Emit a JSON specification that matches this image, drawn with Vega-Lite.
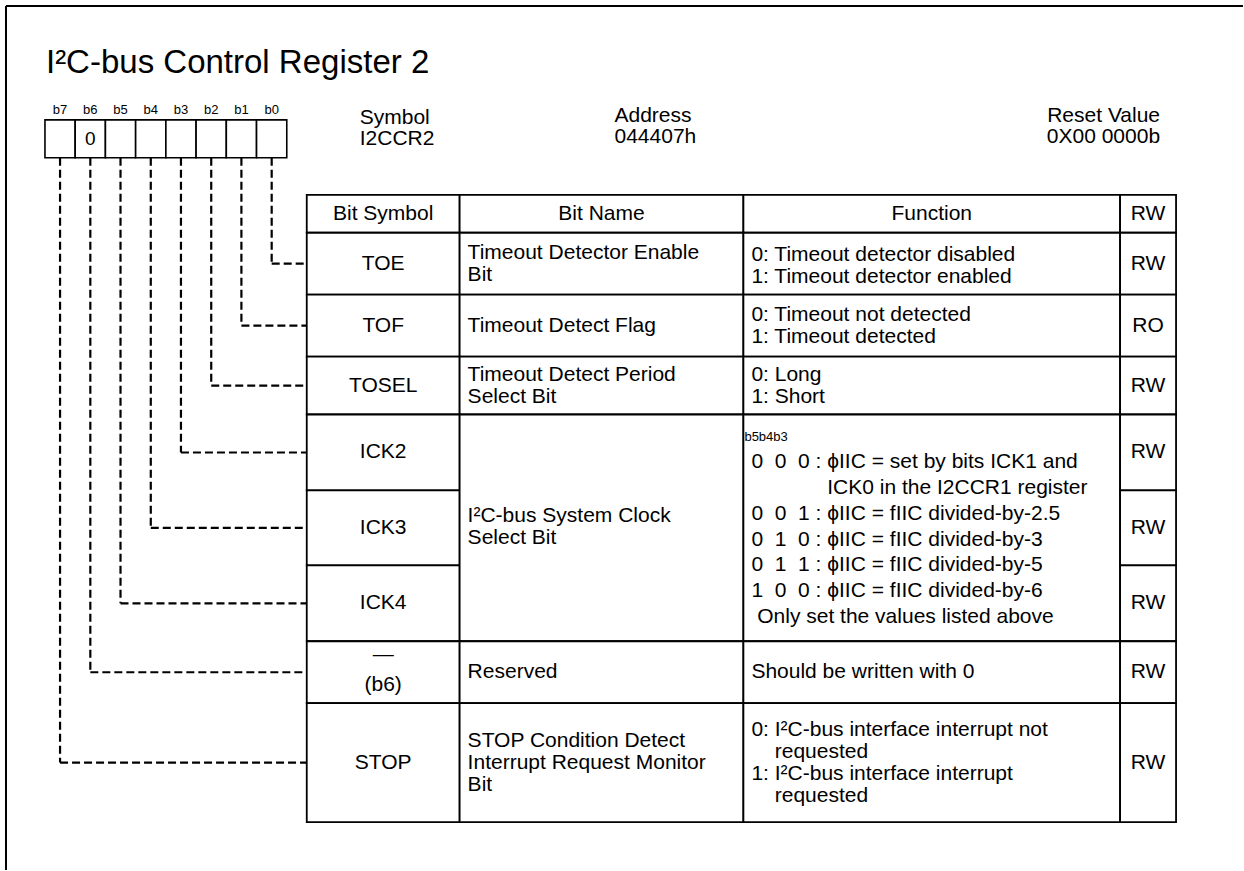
{
  "$schema": "https://vega.github.io/schema/vega-lite/v6.json",
  "width": 1244,
  "height": 871,
  "autosize": {"type": "fit", "contains": "padding"},
  "padding": 0,
  "background": "white",
  "config": {"view": {"stroke": null}},
  "datasets": {
    "frame": [
      {"x": 6, "x2": 1244, "y": 6, "y2": 6},
      {"x": 6, "x2": 6, "y": 6, "y2": 871}
    ],
    "bits": [
      {"bit": "b7", "value": "", "left": 45, "right": 75.25, "mid": 60.1, "top": 120, "bottom": 158, "box_mid": 139, "label_y": 110, "row": 763.5, "table_left": 307},
      {"bit": "b6", "value": "0", "left": 75.25, "right": 105.5, "mid": 90.4, "top": 120, "bottom": 158, "box_mid": 139, "label_y": 110, "row": 673, "table_left": 307},
      {"bit": "b5", "value": "", "left": 105.5, "right": 135.75, "mid": 120.6, "top": 120, "bottom": 158, "box_mid": 139, "label_y": 110, "row": 604, "table_left": 307},
      {"bit": "b4", "value": "", "left": 135.75, "right": 166, "mid": 150.9, "top": 120, "bottom": 158, "box_mid": 139, "label_y": 110, "row": 528.5, "table_left": 307},
      {"bit": "b3", "value": "", "left": 166, "right": 196.25, "mid": 181.1, "top": 120, "bottom": 158, "box_mid": 139, "label_y": 110, "row": 453, "table_left": 307},
      {"bit": "b2", "value": "", "left": 196.25, "right": 226.5, "mid": 211.4, "top": 120, "bottom": 158, "box_mid": 139, "label_y": 110, "row": 386, "table_left": 307},
      {"bit": "b1", "value": "", "left": 226.5, "right": 256.75, "mid": 241.6, "top": 120, "bottom": 158, "box_mid": 139, "label_y": 110, "row": 326, "table_left": 307},
      {"bit": "b0", "value": "", "left": 256.75, "right": 287, "mid": 271.9, "top": 120, "bottom": 158, "box_mid": 139, "label_y": 110, "row": 264, "table_left": 307}
    ],
    "cells": [
      {"left": 307, "right": 460, "top": 195, "bottom": 233},
      {"left": 460, "right": 744, "top": 195, "bottom": 233},
      {"left": 744, "right": 1121, "top": 195, "bottom": 233},
      {"left": 1121, "right": 1177, "top": 195, "bottom": 233},
      {"left": 307, "right": 460, "top": 233, "bottom": 295},
      {"left": 460, "right": 744, "top": 233, "bottom": 295},
      {"left": 744, "right": 1121, "top": 233, "bottom": 295},
      {"left": 1121, "right": 1177, "top": 233, "bottom": 295},
      {"left": 307, "right": 460, "top": 295, "bottom": 357},
      {"left": 460, "right": 744, "top": 295, "bottom": 357},
      {"left": 744, "right": 1121, "top": 295, "bottom": 357},
      {"left": 1121, "right": 1177, "top": 295, "bottom": 357},
      {"left": 307, "right": 460, "top": 357, "bottom": 415},
      {"left": 460, "right": 744, "top": 357, "bottom": 415},
      {"left": 744, "right": 1121, "top": 357, "bottom": 415},
      {"left": 1121, "right": 1177, "top": 357, "bottom": 415},
      {"left": 307, "right": 460, "top": 415, "bottom": 491},
      {"left": 307, "right": 460, "top": 491, "bottom": 566},
      {"left": 307, "right": 460, "top": 566, "bottom": 642},
      {"left": 460, "right": 744, "top": 415, "bottom": 642},
      {"left": 744, "right": 1121, "top": 415, "bottom": 642},
      {"left": 1121, "right": 1177, "top": 415, "bottom": 491},
      {"left": 1121, "right": 1177, "top": 491, "bottom": 566},
      {"left": 1121, "right": 1177, "top": 566, "bottom": 642},
      {"left": 307, "right": 460, "top": 642, "bottom": 704},
      {"left": 460, "right": 744, "top": 642, "bottom": 704},
      {"left": 744, "right": 1121, "top": 642, "bottom": 704},
      {"left": 1121, "right": 1177, "top": 642, "bottom": 704},
      {"left": 307, "right": 460, "top": 704, "bottom": 823},
      {"left": 460, "right": 744, "top": 704, "bottom": 823},
      {"left": 744, "right": 1121, "top": 704, "bottom": 823},
      {"left": 1121, "right": 1177, "top": 704, "bottom": 823}
    ],
    "title": [
      {"text": "I²C-bus Control Register 2", "x": 46, "y": 73}
    ],
    "info_left": [
      {"text": "Symbol\nI2CCR2", "x": 360, "y": 124},
      {"text": "Address\n044407h", "x": 615, "y": 122}
    ],
    "info_right": [
      {"text": "Reset Value\n0X00 0000b", "x": 1161, "y": 122}
    ],
    "centered": [
      {"text": "Bit Symbol", "x": 383.5, "y": 214},
      {"text": "Bit Name", "x": 602, "y": 214},
      {"text": "Function", "x": 932.5, "y": 214},
      {"text": "RW", "x": 1149, "y": 214},
      {"text": "TOE", "x": 383.5, "y": 264},
      {"text": "TOF", "x": 383.5, "y": 326},
      {"text": "TOSEL", "x": 383.5, "y": 386},
      {"text": "ICK2", "x": 383.5, "y": 453},
      {"text": "ICK3", "x": 383.5, "y": 528.5},
      {"text": "ICK4", "x": 383.5, "y": 604},
      {"text": "—\n(b6)", "x": 383.5, "y": 656},
      {"text": "STOP", "x": 383.5, "y": 763.5},
      {"text": "RW", "x": 1149, "y": 264},
      {"text": "RO", "x": 1149, "y": 326},
      {"text": "RW", "x": 1149, "y": 386},
      {"text": "RW", "x": 1149, "y": 453},
      {"text": "RW", "x": 1149, "y": 528.5},
      {"text": "RW", "x": 1149, "y": 604},
      {"text": "RW", "x": 1149, "y": 673},
      {"text": "RW", "x": 1149, "y": 763.5}
    ],
    "left_text": [
      {"text": "Timeout Detector Enable\nBit", "x": 468, "y": 253},
      {"text": "Timeout Detect Flag", "x": 468, "y": 326},
      {"text": "Timeout Detect Period\nSelect Bit", "x": 468, "y": 375},
      {"text": "I²C-bus System Clock\nSelect Bit", "x": 468, "y": 517},
      {"text": "Reserved", "x": 468, "y": 673},
      {"text": "STOP Condition Detect\nInterrupt Request Monitor\nBit", "x": 468, "y": 741.5},
      {"text": "0: Timeout detector disabled\n1: Timeout detector enabled", "x": 752, "y": 255},
      {"text": "0: Timeout not detected\n1: Timeout detected", "x": 752, "y": 315},
      {"text": "0: Long\n1: Short", "x": 752, "y": 375},
      {"text": "Should be written with 0", "x": 752, "y": 673},
      {"text": "0: I²C-bus interface interrupt not\n\u200b\u00a0\u00a0\u00a0\u00a0requested\n1: I²C-bus interface interrupt\n\u200b\u00a0\u00a0\u00a0\u00a0requested", "x": 752, "y": 730.5}
    ],
    "ick_func": [
      {"text": "0\u00a0\u00a00\u00a0\u00a00 : ϕIIC = set by bits ICK1 and\n\u200b\u00a0\u00a0\u00a0\u00a0\u00a0\u00a0\u00a0\u00a0\u00a0\u00a0\u00a0\u00a0\u00a0ICK0 in the I2CCR1 register\n0\u00a0\u00a00\u00a0\u00a01 : ϕIIC = fIIC divided-by-2.5\n0\u00a0\u00a01\u00a0\u00a00 : ϕIIC = fIIC divided-by-3\n0\u00a0\u00a01\u00a0\u00a01 : ϕIIC = fIIC divided-by-5\n1\u00a0\u00a00\u00a0\u00a00 : ϕIIC = fIIC divided-by-6\n\u200b\u00a0Only set the values listed above", "x": 752, "y": 463}
    ],
    "ick_bits": [
      {"text": "b5b4b3", "x": 745, "y": 438}
    ]
  },
  "layer": [
    {
      "data": {"name": "frame"},
      "mark": {"type": "rule", "color": "black", "strokeWidth": 2},
      "encoding": {
        "x": {"field": "x", "type": "quantitative", "scale": {"domain": [0, 1244], "nice": false, "zero": false}, "axis": null},
        "x2": {"field": "x2"},
        "y": {"field": "y", "type": "quantitative", "scale": {"domain": [0, 871], "reverse": true, "nice": false, "zero": false}, "axis": null},
        "y2": {"field": "y2"}
      }
    },
    {
      "data": {"name": "bits"},
      "mark": {"type": "rule", "color": "black", "strokeWidth": 2.2, "strokeDash": [8, 4]},
      "encoding": {
        "x": {"field": "mid", "type": "quantitative", "scale": {"domain": [0, 1244], "nice": false, "zero": false}, "axis": null},
        "y": {"field": "bottom", "type": "quantitative", "scale": {"domain": [0, 871], "reverse": true, "nice": false, "zero": false}, "axis": null},
        "y2": {"field": "row"}
      }
    },
    {
      "data": {"name": "bits"},
      "mark": {"type": "rule", "color": "black", "strokeWidth": 2.2, "strokeDash": [8, 4]},
      "encoding": {
        "x": {"field": "mid", "type": "quantitative", "scale": {"domain": [0, 1244], "nice": false, "zero": false}, "axis": null},
        "x2": {"field": "table_left"},
        "y": {"field": "row", "type": "quantitative", "scale": {"domain": [0, 871], "reverse": true, "nice": false, "zero": false}, "axis": null}
      }
    },
    {
      "data": {"name": "bits"},
      "mark": {"type": "rect", "fill": "white", "stroke": "black", "strokeWidth": 1.6},
      "encoding": {
        "x": {"field": "left", "type": "quantitative", "scale": {"domain": [0, 1244], "nice": false, "zero": false}, "axis": null},
        "x2": {"field": "right"},
        "y": {"field": "top", "type": "quantitative", "scale": {"domain": [0, 871], "reverse": true, "nice": false, "zero": false}, "axis": null},
        "y2": {"field": "bottom"}
      }
    },
    {
      "data": {"name": "bits"},
      "mark": {"type": "text", "font": "Liberation Sans", "fontSize": 13, "color": "black", "align": "center", "baseline": "middle"},
      "encoding": {
        "x": {"field": "mid", "type": "quantitative", "scale": {"domain": [0, 1244], "nice": false, "zero": false}, "axis": null},
        "y": {"field": "label_y", "type": "quantitative", "scale": {"domain": [0, 871], "reverse": true, "nice": false, "zero": false}, "axis": null},
        "text": {"field": "bit", "type": "nominal"}
      }
    },
    {
      "data": {"name": "bits"},
      "mark": {"type": "text", "font": "Liberation Sans", "fontSize": 19, "color": "black", "align": "center", "baseline": "middle"},
      "encoding": {
        "x": {"field": "mid", "type": "quantitative", "scale": {"domain": [0, 1244], "nice": false, "zero": false}, "axis": null},
        "y": {"field": "box_mid", "type": "quantitative", "scale": {"domain": [0, 871], "reverse": true, "nice": false, "zero": false}, "axis": null},
        "text": {"field": "value", "type": "nominal"}
      }
    },
    {
      "data": {"name": "cells"},
      "mark": {"type": "rect", "fill": "white", "stroke": "black", "strokeWidth": 1.8},
      "encoding": {
        "x": {"field": "left", "type": "quantitative", "scale": {"domain": [0, 1244], "nice": false, "zero": false}, "axis": null},
        "x2": {"field": "right"},
        "y": {"field": "top", "type": "quantitative", "scale": {"domain": [0, 871], "reverse": true, "nice": false, "zero": false}, "axis": null},
        "y2": {"field": "bottom"}
      }
    },
    {
      "data": {"name": "title"},
      "mark": {"type": "text", "font": "Liberation Sans", "fontSize": 33, "color": "black", "align": "left", "baseline": "alphabetic"},
      "encoding": {
        "x": {"field": "x", "type": "quantitative", "scale": {"domain": [0, 1244], "nice": false, "zero": false}, "axis": null},
        "y": {"field": "y", "type": "quantitative", "scale": {"domain": [0, 871], "reverse": true, "nice": false, "zero": false}, "axis": null},
        "text": {"field": "text", "type": "nominal"}
      }
    },
    {
      "data": {"name": "info_left"},
      "mark": {"type": "text", "font": "Liberation Sans", "fontSize": 21, "color": "black", "align": "left", "baseline": "alphabetic", "lineBreak": "\n", "lineHeight": 21},
      "encoding": {
        "x": {"field": "x", "type": "quantitative", "scale": {"domain": [0, 1244], "nice": false, "zero": false}, "axis": null},
        "y": {"field": "y", "type": "quantitative", "scale": {"domain": [0, 871], "reverse": true, "nice": false, "zero": false}, "axis": null},
        "text": {"field": "text", "type": "nominal"}
      }
    },
    {
      "data": {"name": "info_right"},
      "mark": {"type": "text", "font": "Liberation Sans", "fontSize": 21, "color": "black", "align": "right", "baseline": "alphabetic", "lineBreak": "\n", "lineHeight": 21},
      "encoding": {
        "x": {"field": "x", "type": "quantitative", "scale": {"domain": [0, 1244], "nice": false, "zero": false}, "axis": null},
        "y": {"field": "y", "type": "quantitative", "scale": {"domain": [0, 871], "reverse": true, "nice": false, "zero": false}, "axis": null},
        "text": {"field": "text", "type": "nominal"}
      }
    },
    {
      "data": {"name": "centered"},
      "mark": {"type": "text", "font": "Liberation Sans", "fontSize": 21, "color": "black", "align": "center", "baseline": "middle", "lineBreak": "\n", "lineHeight": 30},
      "encoding": {
        "x": {"field": "x", "type": "quantitative", "scale": {"domain": [0, 1244], "nice": false, "zero": false}, "axis": null},
        "y": {"field": "y", "type": "quantitative", "scale": {"domain": [0, 871], "reverse": true, "nice": false, "zero": false}, "axis": null},
        "text": {"field": "text", "type": "nominal"}
      }
    },
    {
      "data": {"name": "left_text"},
      "mark": {"type": "text", "font": "Liberation Sans", "fontSize": 21, "color": "black", "align": "left", "baseline": "middle", "lineBreak": "\n", "lineHeight": 22},
      "encoding": {
        "x": {"field": "x", "type": "quantitative", "scale": {"domain": [0, 1244], "nice": false, "zero": false}, "axis": null},
        "y": {"field": "y", "type": "quantitative", "scale": {"domain": [0, 871], "reverse": true, "nice": false, "zero": false}, "axis": null},
        "text": {"field": "text", "type": "nominal"}
      }
    },
    {
      "data": {"name": "ick_func"},
      "mark": {"type": "text", "font": "Liberation Sans", "fontSize": 21, "color": "black", "align": "left", "baseline": "middle", "lineBreak": "\n", "lineHeight": 25.7},
      "encoding": {
        "x": {"field": "x", "type": "quantitative", "scale": {"domain": [0, 1244], "nice": false, "zero": false}, "axis": null},
        "y": {"field": "y", "type": "quantitative", "scale": {"domain": [0, 871], "reverse": true, "nice": false, "zero": false}, "axis": null},
        "text": {"field": "text", "type": "nominal"}
      }
    },
    {
      "data": {"name": "ick_bits"},
      "mark": {"type": "text", "font": "Liberation Sans", "fontSize": 13, "color": "black", "align": "left", "baseline": "middle"},
      "encoding": {
        "x": {"field": "x", "type": "quantitative", "scale": {"domain": [0, 1244], "nice": false, "zero": false}, "axis": null},
        "y": {"field": "y", "type": "quantitative", "scale": {"domain": [0, 871], "reverse": true, "nice": false, "zero": false}, "axis": null},
        "text": {"field": "text", "type": "nominal"}
      }
    }
  ]
}
